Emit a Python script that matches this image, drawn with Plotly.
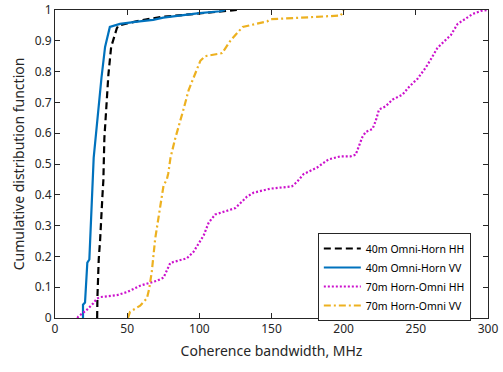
import plotly.graph_objects as go

# 40m Omni-Horn HH (black dashed)
hh40_x = [29.2, 29.4, 30.3, 31.3, 32.9, 33.5, 34.2, 35.4, 37.0, 38.9, 40.5, 42.8, 44.0, 59.0, 72.9, 80.0, 103.0, 126.0]
hh40_y = [0.0, 0.068, 0.19, 0.257, 0.40, 0.446, 0.583, 0.687, 0.79, 0.88, 0.908, 0.94, 0.95, 0.966, 0.977, 0.98, 0.99, 1.0]

# 40m Omni-Horn VV (blue solid)
vv40_x = [19.4, 19.4, 20.8, 22.4, 23.8, 26.2, 26.8, 32.2, 34.7, 38.0, 45.0, 57.0, 68.0, 75.0, 80.0, 100.0, 114.6, 118.0]
vv40_y = [0.0, 0.043, 0.05, 0.18, 0.19, 0.50, 0.52, 0.78, 0.88, 0.945, 0.955, 0.962, 0.968, 0.975, 0.978, 0.99, 0.996, 1.0]

# 70m Horn-Omni HH (magenta dotted)
hh70_x = [15.5, 16.2, 22.0, 26.6, 29.0, 31.3, 42.8, 49.8, 59.0, 70.6, 75.2, 79.9, 91.4, 96.0, 103.0, 106.5, 111.0,
          125.0, 133.0, 137.7, 149.3, 164.0, 167.5, 172.2, 181.4, 189.5, 197.9, 204.9, 208.3, 210.6, 213.0, 215.3,
          220.0, 222.2, 224.5, 229.0, 233.8, 240.7, 245.4, 251.2, 257.0, 260.4, 265.0, 269.6, 274.3, 279.0, 283.5,
          289.4, 295.0, 300.0]
hh70_y = [0.0, 0.005, 0.026, 0.048, 0.063, 0.068, 0.074, 0.084, 0.105, 0.121, 0.131, 0.179, 0.194, 0.215, 0.268,
          0.31, 0.336, 0.357, 0.394, 0.407, 0.42, 0.427, 0.441, 0.467, 0.488, 0.515, 0.525, 0.525, 0.53, 0.557,
          0.588, 0.604, 0.614, 0.64, 0.677, 0.687, 0.709, 0.725, 0.751, 0.777, 0.814, 0.84, 0.877, 0.898, 0.919,
          0.955, 0.97, 0.987, 0.997, 1.0]

# 70m Horn-Omni VV (yellow dash-dot)
vv70_x = [50.5, 52.0, 59.0, 63.7, 65.3, 67.1, 69.4, 71.7, 72.9, 75.2, 77.5, 78.5, 80.0, 83.3, 89.0, 92.6, 96.0,
          100.7, 104.0, 115.8, 121.5, 128.5, 130.0, 147.0, 149.3, 170.0, 191.0, 198.0, 199.0, 200.0]
vv70_y = [0.0, 0.02, 0.04, 0.064, 0.096, 0.152, 0.257, 0.33, 0.36, 0.43, 0.45, 0.47, 0.52, 0.583, 0.677, 0.74,
          0.78, 0.835, 0.85, 0.86, 0.9, 0.94, 0.945, 0.963, 0.97, 0.975, 0.98, 0.982, 0.99, 1.0]

x_ticks = [0, 50, 100, 150, 200, 250, 300]
y_ticks = [0, 0.1, 0.2, 0.3, 0.4, 0.5, 0.6, 0.7, 0.8, 0.9, 1]
y_tick_labels = ["0", "0.1", "0.2", "0.3", "0.4", "0.5", "0.6", "0.7", "0.8", "0.9", "1"]

fig = go.Figure()
fig.add_trace(go.Scatter(x=hh40_x, y=hh40_y, mode="lines", name="40m Omni-Horn HH",
                         line=dict(color="#000000", width=2.2, dash="7px,4px")))
fig.add_trace(go.Scatter(x=vv40_x, y=vv40_y, mode="lines", name="40m Omni-Horn VV",
                         line=dict(color="#0072BD", width=2.2)))
fig.add_trace(go.Scatter(x=hh70_x, y=hh70_y, mode="lines", name="70m Horn-Omni HH",
                         line=dict(color="#CC11CC", width=2.2, dash="2px,2px")))
fig.add_trace(go.Scatter(x=vv70_x, y=vv70_y, mode="lines", name="70m Horn-Omni VV",
                         line=dict(color="#EDB120", width=2.2, dash="7px,3px,2px,3px")))

axis_common = dict(showgrid=False, zeroline=False, showline=True, linecolor="#262626", linewidth=1,
                   mirror="ticks", ticks="inside", ticklen=5, tickcolor="#262626",
                   ticklabeloverflow="allow",
                   tickfont=dict(family="Noto Sans", size=12, color="#262626"))

fig.update_layout(
    width=503, height=372,
    margin=dict(l=55, r=15, t=1, b=54),
    paper_bgcolor="white", plot_bgcolor="white",
    showlegend=True,
    legend=dict(x=0.607, y=0.276, xanchor="left", yanchor="top",
                bgcolor="white", bordercolor="#262626", borderwidth=1,
                font=dict(family="Noto Sans", size=10.5, color="#000000"),
                itemwidth=37, tracegroupgap=0),
    xaxis=dict(range=[0, 300], tickvals=x_ticks,
               title=dict(text="Coherence bandwidth, MHz", font=dict(family="Noto Sans", size=14, color="#262626"),
                          standoff=9),
               **axis_common),
    yaxis=dict(range=[0, 1], tickvals=y_ticks, ticktext=y_tick_labels,
               title=dict(text="Cumulative distribution function",
                          font=dict(family="Noto Sans", size=14, color="#262626"), standoff=6),
               **axis_common),
)

fig.write_html("out.html")
